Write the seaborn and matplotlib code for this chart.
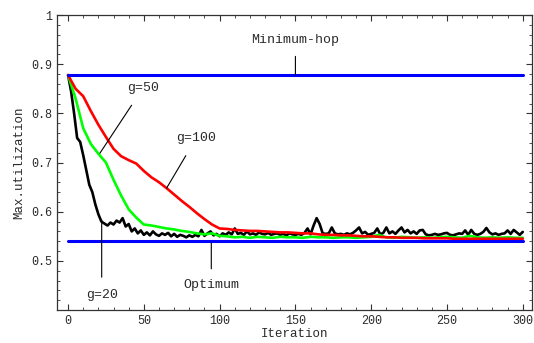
import numpy as np
import pandas as pd
import matplotlib
matplotlib.use("Agg")
import matplotlib.pyplot as plt
import seaborn as sns
from matplotlib.ticker import MultipleLocator

# Values
min_hop = 0.878
optimum = 0.540

# g=20 (black), every 2 iterations
g20_iter = np.arange(0, 301, 2)
g20_vals = [
    0.878, 0.845, 0.800, 0.750, 0.742, 0.715, 0.685, 0.655, 0.640, 0.615,
    0.595, 0.580, 0.576, 0.572, 0.578, 0.574, 0.582, 0.578, 0.587, 0.570,
    0.575, 0.560, 0.566, 0.556, 0.562, 0.553, 0.558, 0.552, 0.560, 0.554,
    0.551, 0.556, 0.553, 0.557, 0.550, 0.555, 0.549, 0.553, 0.551, 0.548,
    0.552, 0.549, 0.553, 0.550, 0.563, 0.551, 0.556, 0.560, 0.552, 0.555,
    0.550, 0.556, 0.553, 0.558, 0.554, 0.566, 0.555, 0.557, 0.553, 0.560,
    0.554, 0.556, 0.553, 0.558, 0.555, 0.554, 0.557, 0.553, 0.555, 0.556,
    0.553, 0.555, 0.552, 0.556, 0.554, 0.553, 0.555, 0.553, 0.557, 0.566,
    0.554, 0.572, 0.587, 0.575, 0.556, 0.555, 0.556, 0.568, 0.556, 0.554,
    0.555, 0.553, 0.556, 0.554, 0.557, 0.562, 0.568, 0.556, 0.559, 0.553,
    0.555, 0.557, 0.566, 0.554, 0.557, 0.568, 0.556, 0.560, 0.555, 0.562,
    0.568, 0.558, 0.563, 0.556, 0.560, 0.555, 0.562, 0.563, 0.554, 0.552,
    0.553, 0.555, 0.553, 0.554, 0.556, 0.557, 0.553, 0.552, 0.554, 0.556,
    0.555, 0.562, 0.553, 0.563, 0.555, 0.553, 0.555, 0.559, 0.567, 0.558,
    0.554, 0.556, 0.553, 0.555, 0.556, 0.562, 0.555, 0.563, 0.558, 0.553,
    0.559,
]

# g=50 (green) and g=100 (red), every 5 iterations
g_iter = np.arange(0, 301, 5)
g50_vals = [
    0.878, 0.830, 0.770, 0.738, 0.718, 0.700, 0.665, 0.633, 0.605, 0.588,
    0.574, 0.572, 0.569, 0.566, 0.564, 0.561, 0.559, 0.556, 0.554, 0.556,
    0.551, 0.550, 0.548, 0.549, 0.547, 0.549, 0.548, 0.547, 0.549, 0.548,
    0.548, 0.547, 0.549, 0.548, 0.548, 0.547, 0.548, 0.548, 0.547, 0.548,
    0.549, 0.553, 0.548, 0.547, 0.549, 0.548, 0.547, 0.548, 0.547, 0.548,
    0.549, 0.548, 0.547, 0.551, 0.548, 0.547, 0.548, 0.547, 0.548, 0.547,
    0.547,
]
g100_vals = [
    0.878, 0.850, 0.835, 0.805, 0.777, 0.752, 0.728, 0.713, 0.705, 0.698,
    0.683, 0.670, 0.660, 0.648, 0.635, 0.622, 0.610, 0.597, 0.585, 0.574,
    0.566, 0.565, 0.563, 0.562, 0.561, 0.561, 0.560, 0.559, 0.558, 0.558,
    0.557, 0.556, 0.556, 0.554, 0.553, 0.553, 0.552, 0.552, 0.551, 0.550,
    0.550, 0.549, 0.548, 0.548, 0.547, 0.547, 0.547, 0.546, 0.546, 0.546,
    0.546, 0.545, 0.545, 0.545, 0.545, 0.545, 0.545, 0.545, 0.545, 0.545,
    0.545,
]

sns.set_style("ticks")
plt.rcParams['font.family'] = ['Liberation Mono', 'DejaVu Sans Mono']
txt = '#2a2a2a'

fig = plt.figure(figsize=(5.34, 3.43), dpi=100)
ax = fig.add_axes([0.107, 0.096, 0.889, 0.860])

df20 = pd.DataFrame({'Iteration': g20_iter, 'util': g20_vals})
df50 = pd.DataFrame({'Iteration': g_iter, 'util': g50_vals})
df100 = pd.DataFrame({'Iteration': g_iter, 'util': g100_vals})

sns.lineplot(x='Iteration', y='util', data=df20, color='black', lw=1.9, ax=ax)
sns.lineplot(x='Iteration', y='util', data=df50, color='#00ff00', lw=1.9, ax=ax)
sns.lineplot(x='Iteration', y='util', data=df100, color='#ff0000', lw=1.9, ax=ax)

ax.plot([0, 300], [min_hop, min_hop], color='#0000ff', lw=2.2)
ax.plot([0, 300], [optimum, optimum], color='#0000ff', lw=2.2)

# annotations
fs = 9.5
arrow = dict(arrowstyle='-', color='black', lw=0.8, shrinkB=0)
ax.annotate('Minimum-hop', xy=(150, min_hop), xytext=(150, 0.949), ha='center', va='center',
            fontsize=fs, color=txt, arrowprops=dict(arrow, shrinkA=5))
ax.annotate('g=50', xy=(21, 0.719), xytext=(49.5, 0.852), ha='center', va='center',
            fontsize=fs, color=txt, arrowprops=dict(arrow, shrinkA=7))
ax.annotate('g=100', xy=(65, 0.648), xytext=(84.6, 0.750), ha='center', va='center',
            fontsize=fs, color=txt, arrowprops=dict(arrow, shrinkA=7))
ax.annotate('g=20', xy=(22.2, 0.583), xytext=(22.2, 0.431), ha='center', va='center',
            fontsize=fs, color=txt, arrowprops=dict(arrow, shrinkA=6))
ax.annotate('Optimum', xy=(94.5, 0.537), xytext=(94.5, 0.451), ha='center', va='center',
            fontsize=fs, color=txt, arrowprops=dict(arrow, shrinkA=5))

ax.set_xlim(-7.2, 306)
ax.set_ylim(0.4, 1.0)
ax.set_yticks([0.5, 0.6, 0.7, 0.8, 0.9, 1.0])
ax.set_yticklabels(['0.5', '0.6', '0.7', '0.8', '0.9', '1'])
ax.set_xticks([0, 50, 100, 150, 200, 250, 300])
ax.xaxis.set_minor_locator(MultipleLocator(10))
ax.yaxis.set_minor_locator(MultipleLocator(0.02))
ax.tick_params(which='both', direction='in', top=True, right=True, labelsize=8.5,
               color='#333333', labelcolor=txt)
ax.tick_params(which='major', length=4, width=0.8)
ax.tick_params(which='minor', length=2, width=0.6)
for s in ax.spines.values():
    s.set_color('#333333')
    s.set_linewidth(0.9)

ax.set_xlabel('Iteration', fontsize=9, labelpad=1, color=txt)
ax.set_ylabel('Max.utilization', fontsize=9, labelpad=4, color=txt)

fig.savefig('out.png', dpi=100)
